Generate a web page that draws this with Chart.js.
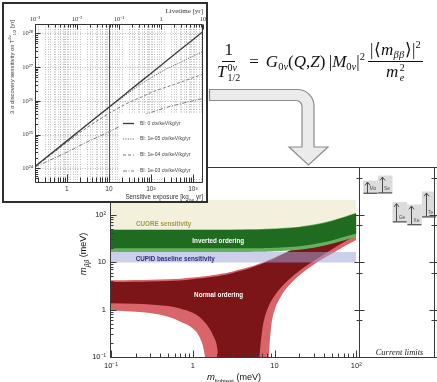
<!DOCTYPE html>
<html><head><meta charset="utf-8">
<script src="https://cdn.jsdelivr.net/npm/chart.js@4.4.1/dist/chart.umd.min.js"></script>
<style>
html,body{margin:0;padding:0;background:#fff;}
body{width:437px;height:382px;position:relative;overflow:hidden;font-family:"Liberation Sans",Arial,sans-serif;}
.abs{position:absolute;}
#mainChart{left:0;top:150px;}
#limitsChart{left:352px;top:150px;}
#arrow{left:0;top:0;}
#inset{left:2px;top:2px;width:202px;height:197px;border:2px solid #2e2e2e;background:#fff;}
#insetChart{left:0;top:0;}
#formula{left:217px;top:41px;font-family:"Liberation Serif","Times New Roman",serif;font-size:17px;color:#111;display:flex;align-items:center;white-space:nowrap;}
.frac{display:inline-flex;flex-direction:column;align-items:center;}
.frac .num{border-bottom:1px solid #111;padding:0 2px 1px;line-height:1.1;}
.frac .den{line-height:1.1;padding-top:1px;}
.ss{display:inline-flex;flex-direction:column;font-size:10px;line-height:1;vertical-align:middle;margin-left:1px;}
.sb{font-size:10.5px;position:relative;top:3px;}
.sp{font-size:10.5px;position:relative;top:-7px;}
</style></head>
<body>
<canvas id="mainChart" class="abs" width="366" height="232"></canvas>
<canvas id="limitsChart" class="abs" width="85" height="232"></canvas>
<svg id="arrow" class="abs" width="437" height="382">
<path d="M209.5,89.5 H297.5 A16.5,16.5 0 0 1 314,106 V147 H328 L308.5,165 L289,147 H302 V106.5 A6,6 0 0 0 296,100.5 H209.5 Z" fill="#ebebeb" stroke="#8c8c8c" stroke-width="1.2"/>
</svg>
<div id="formula" class="abs">
 <span class="frac"><span class="num">1</span><span class="den"><i>T</i><span class="ss"><span>0<i>ν</i></span><span>1/2</span></span></span></span>
 <span style="margin:0 7px 0 9px">=</span><span><i>G</i><span class="sb">0<i>ν</i></span>(<i>Q</i>,<i>Z</i>)&#8201;|<i>M</i><span class="sb">0<i>ν</i></span>|<span class="sp">2</span></span>
 <span class="frac" style="margin-left:3px;letter-spacing:0.3px"><span class="num">|⟨<i>m</i><span class="sb"><i>ββ</i></span>⟩|<span class="sp">2</span></span><span class="den"><i>m</i><span class="ss"><span>2</span><span><i>e</i></span></span></span></span>
</div>
<div id="inset" class="abs"><canvas id="insetChart" class="abs" width="202" height="197"></canvas></div>
<script>
// ================= DATA =================
// main plot: m_lightest (meV)
const mLightest   = [0.1,0.2,0.3,0.5,0.7,1,1.2,1.4,1.6,1.8,2,2.3,2.6,3,4,5,6,6.6,7.2,8,8.6,9.2,10,12,15,20,25,30,40,50,70,100];
// normal ordering band edges (m_bb, meV)
const noLightUpper = [4.15,4.2,4.25,4.35,4.45,4.7,4.85,5.0,5.15,5.3,5.45,5.7,5.9,6.25,7.1,7.9,8.8,9.3,9.8,10.5,11.1,11.6,12.4,14.3,17.3,22.3,27.2,32.1,42,52,72,102];
const noDarkUpper  = [3.8,3.85,3.9,4.0,4.1,4.35,4.5,4.6,4.75,4.9,5.0,5.25,5.45,5.8,6.6,7.4,8.3,8.8,9.3,10.0,10.6,11.1,11.9,13.8,16.8,21.7,26.6,31.5,41.4,51.3,71.2,101];
const noDarkLower  = [1.35,1.32,1.28,1.18,1.05,0.85,0.7,0.54,0.4,0.27,0.15,0.01,0.01,0.01,0.01,0.01,0.01,0.12,0.45,0.92,1.25,1.55,1.95,2.9,4.3,6.5,8.5,10.5,14.4,18.3,26,37.5];
const noLightLower = [0.95,0.9,0.84,0.7,0.56,0.4,0.27,0.11,0.01,0.01,0.01,0.01,0.01,0.01,0.01,0.01,0.01,0.01,0.01,0.01,0.13,0.5,0.95,1.9,3.2,5.2,7.0,8.8,12,15,21,29];
// inverted ordering band edges (m_bb, meV)
const ioLightTop    = [48.5,48.5,48.5,48.5,48.5,48.5,48.5,48.5,48.5,48.5,48.5,48.5,48.6,48.6,48.8,49,49.2,49.4,49.6,49.9,50.2,50.5,50.9,51.8,53.2,55.5,58.5,61.5,68,75,89,109];
const ioDarkTop     = [47,47,47,47,47,47,47,47,47,47,47,47,47.1,47.1,47.3,47.5,47.7,47.9,48.1,48.4,48.7,49,49.4,50.2,51.6,53.8,56.5,59.5,65.5,72.5,86,105];
const ioDarkBottom  = [19.4,19.4,19.4,19.4,19.4,19.4,19.4,19.4,19.4,19.4,19.4,19.4,19.4,19.4,19.4,19.4,19.45,19.5,19.55,19.6,19.7,19.8,19.9,20.2,20.7,21.5,22.5,23.5,26,28.5,33.5,40];
const ioLightBottom = [16.3,16.3,16.3,16.3,16.3,16.3,16.3,16.3,16.3,16.3,16.3,16.3,16.3,16.3,16.3,16.3,16.35,16.4,16.45,16.5,16.6,16.7,16.8,17.1,17.5,18.2,19,19.9,22,24.2,28.5,34];
// experimental sensitivity bands (m_bb, meV): [low, high]
const cuoreBand = [40, 202];
const cupidBand = [9.8, 16.3];
// current limits (m_bb ranges, meV)
const isotopes  = ['Mo','Se','Ge','Xe','Te'];
const limitLow  = [280, 285, 70, 61, 89];
const limitHigh = [510, 650, 180, 160, 300];
// inset: sensitive exposure (kg_iso yr) and 3 sigma discovery sensitivity (yr)
const exposure  = [0.18,0.5,1,3,10,30,60,100,200,400,1000,1740];
const sensBI0   = [1.17e24,3.25e24,6.5e24,1.95e25,6.5e25,1.95e26,3.9e26,6.5e26,1.3e27,2.6e27,6.5e27,1.13e28];
const sensBI1e5 = [1.15e24,3.2e24,6.3e24,1.9e25,6.2e25,1.74e26,3.2e26,4.8e26,7.9e26,1.2e27,2.1e27,2.9e27];
const sensBI1e4 = [1.15e24,3.0e24,5.8e24,1.6e25,4.2e25,8.9e25,1.3e26,1.75e26,2.4e26,3.2e26,4.8e26,6.2e26];
const sensBI1e3 = [1.12e24,2.0e24,3.0e24,6.0e24,1.2e25,2.4e25,3.6e25,4.5e25,6.0e25,7.6e25,1.0e26,1.17e26];
const seriesLabels = ['BI: 0 cts/keV/kg/yr','BI: 1e-05 cts/keV/kg/yr','BI: 1e-04 cts/keV/kg/yr','BI: 1e-03 cts/keV/kg/yr'];

// ================= HELPERS =================
const SUP = {'-':'⁻','0':'⁰','1':'¹','2':'²','3':'³','4':'⁴','5':'⁵','6':'⁶','7':'⁷','8':'⁸','9':'⁹'};
function powLabel(v){
  const e = Math.round(Math.log10(v));
  if (e === 0) return '1';
  if (e === 1) return '10';
  return '10' + String(e).split('').map(c => SUP[c]).join('');
}
function logTicks(min, max){
  const out = [];
  const e0 = Math.floor(Math.log10(min)), e1 = Math.ceil(Math.log10(max));
  for (let e = e0; e <= e1; e++) {
    for (let k = 1; k <= 9; k++) {
      const v = parseFloat((k * Math.pow(10, e)).toPrecision(6));
      if (v >= min * 0.9999 && v <= max * 1.0001) out.push({value: v, major: k === 1});
    }
  }
  return out;
}
const tickCb = function(v, i, ticks){ return ticks[i] && ticks[i].major ? powLabel(v) : ''; };
function richText(ctx, segs, x, y, align, rot){
  ctx.save(); ctx.translate(x, y); if (rot) ctx.rotate(rot);
  let w = 0;
  segs.forEach(s => { ctx.font = s.f; s.w = ctx.measureText(s.t).width; w += s.w; });
  let cx = align === 'center' ? -w/2 : (align === 'right' ? -w : 0);
  ctx.textAlign = 'left'; ctx.textBaseline = 'alphabetic';
  segs.forEach(s => { ctx.font = s.f; ctx.fillText(s.t, cx, s.dy || 0); cx += s.w; });
  ctx.restore();
}
const pts = (xs, ys) => xs.map((x, i) => ({x, y: ys[i]}));
const SANS = '"Liberation Sans", Arial, sans-serif';
const SERIF = '"Liberation Serif", "Times New Roman", serif';

// ================= MAIN CHART =================
const C = {
  beige:'#f3f1dd', pink:'#d9646a', dred:'#7b1518', lgreen:'#64b25e', dgreen:'#1f6b1f', cupid:'rgba(158,163,212,0.52)'
};
function edge(data, fillColor, order){
  return {data, fill: fillColor ? '+1' : false, backgroundColor: fillColor || 'rgba(0,0,0,0)',
    borderColor:'rgba(0,0,0,0)', borderWidth:0, pointRadius:0, cubicInterpolationMode:'monotone', order};
}
const xEnds = [mLightest[0], mLightest[mLightest.length-1]];
const mainDatasets = [
  edge(pts(xEnds, [cuoreBand[1], cuoreBand[1]]), C.beige, 10),
  edge(pts(xEnds, [cuoreBand[0], cuoreBand[0]]), null, 10),
  edge(pts(mLightest, noLightUpper), C.pink, 9),
  edge(pts(mLightest, noLightLower), null, 9),
  edge(pts(mLightest, noDarkUpper), C.dred, 8),
  edge(pts(mLightest, noDarkLower), null, 8),
  edge(pts(mLightest, ioLightTop), C.lgreen, 7),
  edge(pts(mLightest, ioLightBottom), null, 7),
  edge(pts(mLightest, ioDarkTop), C.dgreen, 6),
  edge(pts(mLightest, ioDarkBottom), null, 6),
  edge(pts(xEnds, [cupidBand[1], cupidBand[1]]), C.cupid, 5),
  edge(pts(xEnds, [cupidBand[0], cupidBand[0]]), null, 5),
];
const bandLabels = [
  {text:'CUORE sensitivity', x:0.44, y:62, color:'#a39a3e'},
  {text:'Inverted ordering', x:2.05, y:27.5, color:'#ffffff'},
  {text:'CUPID baseline sensitivity', x:0.61, y:11.7, color:'#2d2d7d'},
  {text:'Normal ordering', x:2.07, y:1.95, color:'#ffffff'},
];
const mainDeco = {
  id:'mainDeco',
  afterDatasetsDraw(chart){
    const {ctx, scales:{x, y}} = chart;
    ctx.save();
    ctx.textAlign = 'center'; ctx.textBaseline = 'middle';
    ctx.font = 'bold 6.3px ' + SANS;
    bandLabels.forEach(l => { ctx.fillStyle = l.color; ctx.fillText(l.text, x.getPixelForValue(l.x), y.getPixelForValue(l.y)); });
    ctx.restore();
  },
  afterDraw(chart){
    const {ctx, chartArea:a, scales:{x, y}} = chart;
    ctx.save();
    ctx.strokeStyle = '#3a3a3a'; ctx.lineWidth = 1;
    const L = Math.round(a.left) - 0.5, B = Math.round(a.bottom) + 0.5, T = Math.round(a.top) + 0.5, R = Math.round(a.right);
    ctx.beginPath();
    ctx.moveTo(L, T); ctx.lineTo(L, B); ctx.lineTo(R, B);
    ctx.moveTo(L, T); ctx.lineTo(R, T);
    y.ticks.forEach(t => { const p = Math.round(y.getPixelForValue(t.value)) + 0.5; const len = t.major ? 6 : 3; ctx.moveTo(L, p); ctx.lineTo(L + len, p); });
    x.ticks.forEach(t => { const p = Math.round(x.getPixelForValue(t.value)) + 0.5; const len = t.major ? 7 : 4; ctx.moveTo(p, B); ctx.lineTo(p, B - len); });
    ctx.stroke();
    ctx.fillStyle = '#111';
    richText(ctx, [
      {t:'m', f:'italic 9.5px ' + SANS},
      {t:'ββ', f:'italic 6.5px ' + SANS, dy:2.5},
      {t:' (meV)', f:'9px ' + SANS}
    ], a.left - 25, a.top + 87, 'center', -Math.PI/2);
    richText(ctx, [
      {t:'m', f:'italic 9.5px ' + SANS},
      {t:'lightest', f:'6px ' + SANS, dy:2.5},
      {t:' (meV)', f:'9px ' + SANS}
    ], 234, a.bottom + 23, 'center', 0);
    ctx.restore();
  }
};
new Chart(document.getElementById('mainChart'), {
  type:'line',
  data:{datasets: mainDatasets},
  options:{
    responsive:false, animation:false, events:[],
    layout:{padding:{left:0, right:7, top:17, bottom:0}},
    plugins:{legend:{display:false}, tooltip:{enabled:false}},
    scales:{
      x:{type:'logarithmic', min:0.1, max:108, position:'bottom',
        afterBuildTicks: s => { s.ticks = logTicks(0.1, 108); },
        ticks:{callback: tickCb, autoSkip:false, maxRotation:0, padding:4, color:'#222', font:{size:7.5, family:'Liberation Sans'}},
        grid:{display:false, drawTicks:false}, border:{display:false},
        afterFit: s => { s.height = 25; s.paddingLeft = 0; s.paddingRight = 0; }},
      y:{type:'logarithmic', min:0.1, max:1000,
        afterBuildTicks: s => { s.ticks = logTicks(0.1, 1000); },
        ticks:{callback: tickCb, autoSkip:false, padding:5, color:'#222', font:{size:7.5, family:'Liberation Sans'}},
        grid:{display:false, drawTicks:false}, border:{display:false},
        afterFit: s => { s.width = 111; s.paddingTop = 0; s.paddingBottom = 0; }}
    }
  },
  plugins:[mainDeco]
});

// ================= CURRENT LIMITS PANEL =================
const limitsDeco = {
  id:'limitsDeco',
  afterDraw(chart){
    const {ctx, chartArea:a, scales:{y}} = chart;
    const W = chart.width;
    ctx.save();
    ctx.strokeStyle = '#3a3a3a'; ctx.lineWidth = 1;
    const L = Math.round(a.left) + 0.5, R = Math.round(a.right) + 0.5, T = Math.round(a.top) + 0.5, B = Math.round(a.bottom) + 0.5;
    ctx.beginPath();
    ctx.moveTo(0, T); ctx.lineTo(W, T);
    ctx.moveTo(0, B); ctx.lineTo(W, B);
    ctx.moveTo(L, T); ctx.lineTo(L, B);
    ctx.moveTo(R, T); ctx.lineTo(R, B);
    y.ticks.forEach(t => {
      const p = Math.round(y.getPixelForValue(t.value)) + 0.5;
      const len = t.major ? 5 : 3;
      ctx.moveTo(L - len, p); ctx.lineTo(L + len, p);
      ctx.moveTo(R - len, p); ctx.lineTo(R + len, p);
    });
    ctx.stroke();
    // arrows & labels on each limit box
    const meta = chart.getDatasetMeta(0);
    meta.data.forEach((el, i) => {
      const {x, y: top, base, width} = el.getProps(['x','y','base','width'], true);
      const ax = Math.round(x - width * 0.25) + 0.5;
      ctx.strokeStyle = '#4a4a4a'; ctx.lineWidth = 1;
      ctx.beginPath();
      ctx.moveTo(ax, base); ctx.lineTo(ax, top + 1.5);
      ctx.moveTo(ax - 2.5, top + 4.5); ctx.lineTo(ax, top + 1.2); ctx.lineTo(ax + 2.5, top + 4.5);
      ctx.stroke();
      ctx.lineWidth = 1.3; ctx.strokeStyle = '#555';
      ctx.beginPath(); ctx.moveTo(x - width/2, base); ctx.lineTo(x + width/2, base); ctx.stroke();
      ctx.fillStyle = '#555'; ctx.font = '5px ' + SANS; ctx.textAlign = 'left'; ctx.textBaseline = 'alphabetic';
      ctx.fillText(isotopes[i], x - width * 0.08, base - 3);
    });
    ctx.fillStyle = '#222'; ctx.font = 'italic 8.5px ' + SERIF; ctx.textAlign = 'center';
    ctx.fillText('Current limits', (a.left + a.right) / 2 + 3, a.bottom - 2.5);
    ctx.restore();
  }
};
new Chart(document.getElementById('limitsChart'), {
  type:'bar',
  data:{datasets:[{data: isotopes.map((n, i) => ({x:i, y:[limitLow[i], limitHigh[i]]})), backgroundColor:'#dcdcdc', borderWidth:0, barThickness:14}]},
  options:{
    responsive:false, animation:false, events:[],
    layout:{padding:{left:7, right:3, top:17, bottom:25}},
    plugins:{legend:{display:false}, tooltip:{enabled:false}},
    scales:{
      x:{type:'linear', offset:false, min:-0.785, max:4.335, display:false, grid:{offset:false}},
      y:{type:'logarithmic', min:0.1, max:1000, display:false, afterBuildTicks: s => { s.ticks = logTicks(0.1, 1000); }}
    }
  },
  plugins:[limitsDeco]
});

// ================= INSET CHART =================
const insetDeco = {
  id:'insetDeco',
  beforeDatasetsDraw(chart){
    const {ctx, chartArea:a, scales:{x, x2, y}} = chart;
    ctx.save();
    ctx.beginPath(); ctx.rect(a.left, a.top, a.width, a.height); ctx.clip();
    ctx.lineWidth = 0.8; ctx.setLineDash([1, 1.5]); ctx.strokeStyle = '#aeaeae';
    ctx.beginPath();
    [x, x2].forEach(s => s.ticks.forEach(t => {
      if (s === x && t.value === 10) return;
      const p = Math.round(s.getPixelForValue(t.value)) + 0.5;
      ctx.moveTo(p, a.top); ctx.lineTo(p, a.bottom);
    }));
    y.ticks.forEach(t => { if (!t.major) return; const p = Math.round(y.getPixelForValue(t.value)) + 0.5; ctx.moveTo(a.left, p); ctx.lineTo(a.right, p); });
    ctx.stroke();
    ctx.setLineDash([]); ctx.strokeStyle = '#555'; ctx.lineWidth = 1;
    const p10 = Math.round(x.getPixelForValue(10)) + 0.5;
    ctx.beginPath(); ctx.moveTo(p10, a.top); ctx.lineTo(p10, a.bottom); ctx.stroke();
    ctx.restore();
  },
  afterDatasetsDraw(chart){
    const {ctx, chartArea:a, scales:{x, x2, y}} = chart;
    ctx.save();
    // legend
    ctx.fillStyle = '#fff';
    ctx.fillRect(a.right - 84, a.bottom - 69, 83, 64);
    const rows = [a.bottom - 59.5, a.bottom - 44, a.bottom - 28, a.bottom - 12];
    chart.data.datasets.forEach((d, i) => {
      ctx.strokeStyle = d.borderColor; ctx.lineWidth = d.borderWidth; ctx.setLineDash(d.borderDash || []);
      ctx.beginPath(); ctx.moveTo(a.right - 80, rows[i]); ctx.lineTo(a.right - 69, rows[i]); ctx.stroke();
      ctx.setLineDash([]);
      ctx.fillStyle = '#444'; ctx.font = '5px ' + SANS; ctx.textAlign = 'left'; ctx.textBaseline = 'middle';
      ctx.fillText(d.label, a.right - 63, rows[i]);
    });
    // frame and inward ticks
    ctx.strokeStyle = '#333'; ctx.lineWidth = 1; ctx.setLineDash([]);
    const L = Math.round(a.left) + 0.5, R = Math.round(a.right) - 0.5, T = Math.round(a.top) + 0.5, B = Math.round(a.bottom) - 0.5;
    ctx.beginPath();
    ctx.rect(L, T, R - L, B - T);
    x.ticks.forEach(t => { const p = Math.round(x.getPixelForValue(t.value)) + 0.5; const len = t.major ? 8 : 5; ctx.moveTo(p, B); ctx.lineTo(p, B - len); });
    x2.ticks.forEach(t => { const p = Math.round(x2.getPixelForValue(t.value)) + 0.5; const len = t.major ? 5 : 3; ctx.moveTo(p, T); ctx.lineTo(p, T + len); });
    y.ticks.forEach(t => { const p = Math.round(y.getPixelForValue(t.value)) + 0.5; const len = t.major ? 5 : 2.5; ctx.moveTo(L, p); ctx.lineTo(L + len, p); });
    ctx.stroke();
    // titles
    ctx.fillStyle = '#333';
    ctx.font = '7px ' + SERIF; ctx.textAlign = 'right'; ctx.textBaseline = 'alphabetic';
    ctx.fillText('Livetime [yr]', a.right, 9);
    richText(ctx, [
      {t:'Sensitive exposure [kg', f:'6.3px ' + SANS},
      {t:'iso', f:'4.3px ' + SANS, dy:1.8},
      {t:' yr]', f:'6.3px ' + SANS}
    ], a.right, a.bottom + 16, 'right', 0);
    richText(ctx, [
      {t:'3 σ discovery sensitivity on T', f:'5.8px ' + SANS},
      {t:'0ν', f:'4px ' + SANS, dy:-2.8},
      {t:'1/2', f:'4px ' + SANS, dy:1.5},
      {t:' [yr]', f:'5.8px ' + SANS}
    ], 10, a.top - 4, 'right', -Math.PI/2);
    ctx.restore();
  }
};
new Chart(document.getElementById('insetChart'), {
  type:'line',
  data:{datasets:[
    {label:seriesLabels[0], data: pts(exposure, sensBI0),   borderColor:'#3a3a3a', borderWidth:1.3, borderDash:[],          pointRadius:0, fill:false, cubicInterpolationMode:'monotone'},
    {label:seriesLabels[1], data: pts(exposure, sensBI1e5), borderColor:'#6a6a6a', borderWidth:1,   borderDash:[1.2,1.2],   pointRadius:0, fill:false, cubicInterpolationMode:'monotone'},
    {label:seriesLabels[2], data: pts(exposure, sensBI1e4), borderColor:'#7a7a7a', borderWidth:1,   borderDash:[3,2],       pointRadius:0, fill:false, cubicInterpolationMode:'monotone'},
    {label:seriesLabels[3], data: pts(exposure, sensBI1e3), borderColor:'#7a7a7a', borderWidth:1,   borderDash:[4,1.5,1,1.5], pointRadius:0, fill:false, cubicInterpolationMode:'monotone'}
  ]},
  options:{
    responsive:false, animation:false, events:[],
    layout:{padding:{left:0, right:3, top:0, bottom:0}},
    plugins:{legend:{display:false}, tooltip:{enabled:false}},
    scales:{
      x:{type:'logarithmic', position:'bottom', min:0.174, max:1740,
        afterBuildTicks: s => { s.ticks = logTicks(0.174, 1740); },
        ticks:{callback: tickCb, autoSkip:false, maxRotation:0, padding:2, color:'#333', font:{size:6.5, family:'Liberation Sans'}},
        grid:{display:false, drawTicks:false}, border:{display:false},
        afterFit: s => { s.height = 18; s.paddingLeft = 0; s.paddingRight = 0; }},
      x2:{axis:'x', type:'logarithmic', position:'top', min:0.001, max:10,
        afterBuildTicks: s => { s.ticks = logTicks(0.001, 10); },
        ticks:{callback: tickCb, autoSkip:false, maxRotation:0, padding:1, color:'#333', font:{size:6.5, family:'Liberation Serif'}},
        grid:{display:false, drawTicks:false}, border:{display:false},
        afterFit: s => { s.height = 20; s.paddingLeft = 0; s.paddingRight = 0; }},
      y:{type:'logarithmic', min:3.67e23, max:1.89e28,
        afterBuildTicks: s => { s.ticks = logTicks(3.67e23, 1.89e28); },
        ticks:{callback: tickCb, autoSkip:false, padding:2, color:'#333', font:{size:6.5, family:'Liberation Serif'}},
        grid:{display:false, drawTicks:false}, border:{display:false},
        afterFit: s => { s.width = 31; s.paddingTop = 0; s.paddingBottom = 0; }}
    }
  },
  plugins:[insetDeco]
});
</script>
</body></html>
